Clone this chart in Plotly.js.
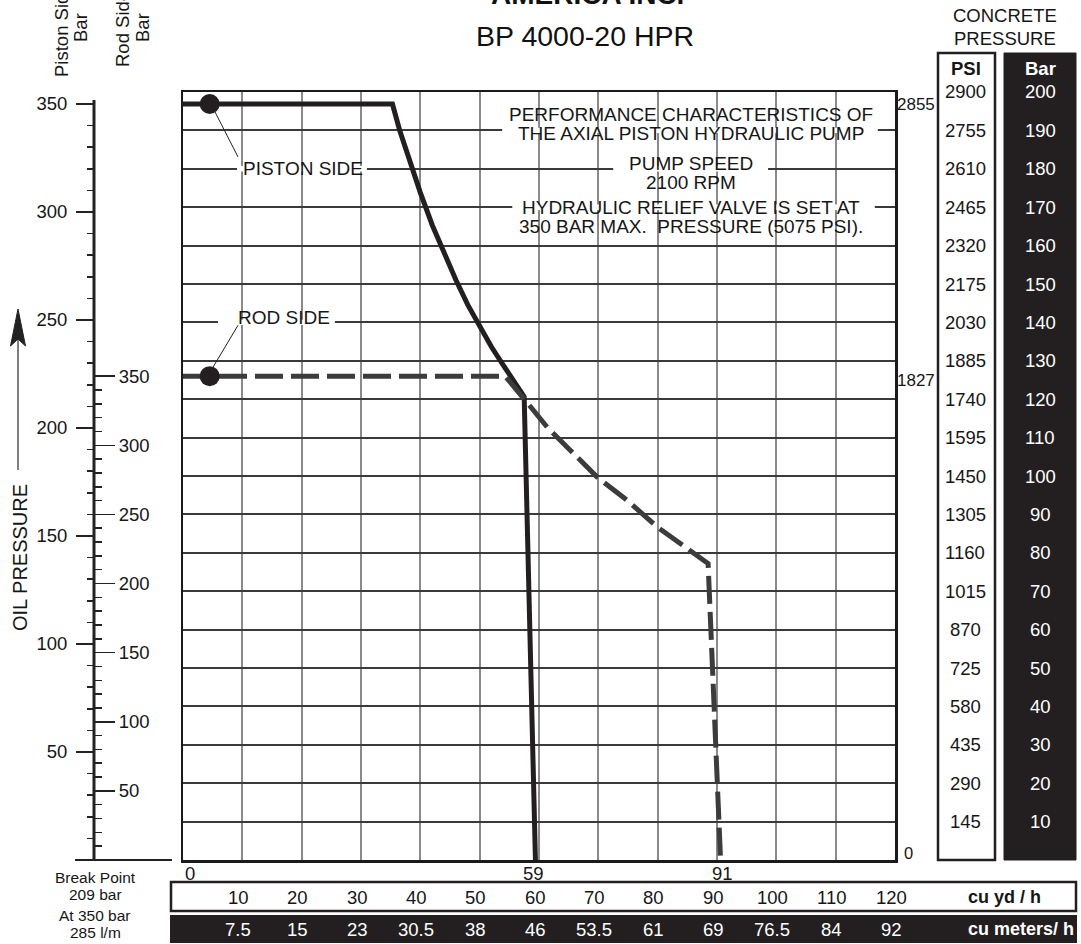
<!DOCTYPE html>
<html>
<head>
<meta charset="utf-8">
<script src="https://cdn.plot.ly/plotly-3.0.1.min.js"></script>
<style>
html,body{margin:0;padding:0;background:#fff;}
#chart{width:1081px;height:944px;}
.gridlayer path{shape-rendering:crispEdges;}
</style>
</head>
<body>
<div id="chart"></div>
<script>
// ---- data ----
const pistonX = [0, 35.3, 36.5, 38, 40, 42, 44, 46, 48, 50, 52, 54, 56, 57.5, 59.4];                          // cu yd/h
const pistonY = [350, 350, 338, 325, 309, 294, 281, 268.5, 257, 247, 237.5, 229, 220.5, 214.5, 0];            // bar (piston side)
const rodX = [0, 54.3, 57.4, 61.4, 69.8, 74.9, 79.9, 83.8, 88.5, 90.6];                                       // cu yd/h
const rodY = [350, 350, 334, 313, 277, 260, 241, 229, 214.5, 0];                                              // bar (rod side)
const dotX = [4.5];
const pistonDotY = [350];
const rodDotY = [350];
const concreteBar = [200,190,180,170,160,150,140,130,120,110,100,90,80,70,60,50,40,30,20,10];
const concretePsi = ['2900','2755','2610','2465','2320','2175','2030','1885','1740','1595','1450','1305','1160','1015','870','725','580','435','290','145'];
const cuYd = [10,20,30,40,50,60,70,80,90,100,110,120];
const cuM = ['7.5','15','23','30.5','38','46','53.5','61','69','76.5','84','92'];
const pistonTicks = [50,100,150,200,250,300,350];
const rodTicks = [50,100,150,200,250,300,350];
const breakX = [0, 59, 91];

// ---- layout helpers ----
const W = 1081, H = 944;
const px = x => x / W;
const py = y => 1 - y / H;
const FONT = 'Liberation Sans, Arial, Helvetica, sans-serif';
const INK = '#161616';

const minorVals = [];
for (let v = 10; v < 350; v += 10) if (v % 50 !== 0) minorVals.push(v);

const traces = [
  {x: pistonX, y: pistonY, yaxis: 'y2', mode: 'lines', line: {color: '#231f20', width: 5}, hoverinfo: 'skip', showlegend: false},
  {x: rodX, y: rodY, yaxis: 'y3', mode: 'lines', line: {color: '#3c3c3c', width: 5, dash: '28px,8px'}, hoverinfo: 'skip', showlegend: false},
  {x: dotX, y: pistonDotY, yaxis: 'y2', mode: 'markers', marker: {color: '#231f20', size: 20}, hoverinfo: 'skip', showlegend: false},
  {x: dotX, y: rodDotY, yaxis: 'y3', mode: 'markers', marker: {color: '#231f20', size: 20}, hoverinfo: 'skip', showlegend: false}
];

const ann = [];
const shapes = [];
function A(o) { ann.push(Object.assign({showarrow: false, font: {family: FONT, size: 18.5, color: INK}}, o)); }

// titles
A({text: '<b>AMERICA INC.</b>', xref: 'paper', yref: 'paper', x: px(587), y: 1 + 5 / H, xanchor: 'center', yanchor: 'middle', font: {family: FONT, size: 28, color: '#111'}});
A({text: 'BP 4000-20 HPR', xref: 'paper', yref: 'paper', x: px(585), y: py(36), xanchor: 'center', yanchor: 'middle', font: {family: FONT, size: 28.5, color: '#111'}});
A({text: 'CONCRETE', xref: 'paper', yref: 'paper', x: px(1005), y: py(16), xanchor: 'center', yanchor: 'middle'});
A({text: 'PRESSURE', xref: 'paper', yref: 'paper', x: px(1005), y: py(38), xanchor: 'center', yanchor: 'middle'});

// rotated axis titles
A({text: 'Piston Side', textangle: -90, xref: 'paper', yref: 'paper', x: px(61), y: py(30), xanchor: 'center', yanchor: 'middle'});
A({text: 'Bar', textangle: -90, xref: 'paper', yref: 'paper', x: px(80), y: py(28), xanchor: 'center', yanchor: 'middle'});
A({text: 'Rod Side', textangle: -90, xref: 'paper', yref: 'paper', x: px(123), y: py(29), xanchor: 'center', yanchor: 'middle'});
A({text: 'Bar', textangle: -90, xref: 'paper', yref: 'paper', x: px(142), y: py(28), xanchor: 'center', yanchor: 'middle'});
A({text: 'OIL PRESSURE', textangle: -90, xref: 'paper', yref: 'paper', x: px(20), y: py(558), xanchor: 'center', yanchor: 'middle', font: {family: FONT, size: 20, color: INK}});

// in-plot labels
A({text: 'PISTON SIDE', xref: 'x', yref: 'y', x: 20.2, y: 180.2, xanchor: 'center', yanchor: 'middle', font: {family: FONT, size: 19, color: INK}});
A({text: 'ROD SIDE', xref: 'x', yref: 'y', x: 17.0, y: 141.4, xanchor: 'center', yanchor: 'middle', font: {family: FONT, size: 19, color: INK}});
const blockX = 85.6;
[['PERFORMANCE CHARACTERISTICS OF', 115], ['THE AXIAL PISTON HYDRAULIC PUMP', 133],
 ['PUMP SPEED', 163], ['2100 RPM', 183],
 ['HYDRAULIC RELIEF VALVE IS SET AT', 208], ['350 BAR MAX.\u00a0 PRESSURE (5075 PSI).', 227]].forEach(([t, yy]) => {
  A({text: t, xref: 'x', yref: 'paper', x: blockX, y: py(yy), xanchor: 'center', yanchor: 'middle', font: {family: FONT, size: 19, color: INK}});
});

// gaps in gridlines behind labels
[[53.8, 117.1, 190], [9.1, 31.0, 180], [72.5, 98.6, 180], [55.5, 116.6, 170], [5.9, 25.6, 140]].forEach(([x0, x1, yv]) => {
  shapes.push({type: 'rect', xref: 'x', yref: 'y', x0: x0, x1: x1, y0: yv - 0.7, y1: yv + 0.7, fillcolor: '#fff', line: {width: 0}, layer: 'above'});
});

// leader lines
shapes.push({type: 'line', xref: 'x', yref: 'y2', x0: 5.4, y0: 346.3, x1: 9.27, y1: 325.5, line: {color: '#222', width: 1}});
shapes.push({type: 'line', xref: 'x', yref: 'y3', x0: 5.06, y0: 356.5, x1: 9.27, y1: 386.8, line: {color: '#222', width: 1}});

// right-hand values of the plot
A({text: '2855', xref: 'paper', yref: 'y2', x: px(895), y: 350, xanchor: 'left', yanchor: 'middle', yshift: -1, font: {family: FONT, size: 17, color: INK}});
A({text: '1827', xref: 'paper', yref: 'y3', x: px(895), y: 350, xanchor: 'left', yanchor: 'middle', yshift: -4, font: {family: FONT, size: 17, color: INK}});
A({text: '0', xref: 'paper', yref: 'y', x: px(908), y: 0, xanchor: 'center', yanchor: 'middle', yshift: 7, font: {family: FONT, size: 16.5, color: INK}});

// concrete pressure columns
shapes.push({type: 'rect', xref: 'paper', yref: 'paper', x0: px(938), x1: px(995), y0: py(860), y1: py(53), fillcolor: '#fff', line: {color: '#231f20', width: 2.5}});
shapes.push({type: 'rect', xref: 'paper', yref: 'paper', x0: px(1004), x1: px(1076), y0: py(860), y1: py(53), fillcolor: '#231f20', line: {color: '#231f20', width: 1}});
A({text: '<b>PSI</b>', xref: 'paper', yref: 'paper', x: px(966), y: py(68), xanchor: 'center', yanchor: 'middle'});
A({text: '<b>Bar</b>', xref: 'paper', yref: 'paper', x: px(1040), y: py(68), xanchor: 'center', yanchor: 'middle', font: {family: FONT, size: 18.5, color: '#fff'}});
concreteBar.forEach((b, i) => {
  A({text: concretePsi[i], xref: 'paper', yref: 'y', x: px(965), y: b, xanchor: 'center', yanchor: 'middle', font: {family: FONT, size: 18.5, color: INK}});
  A({text: String(b), xref: 'paper', yref: 'y', x: px(1040), y: b, xanchor: 'center', yanchor: 'middle', font: {family: FONT, size: 18.5, color: '#fff'}});
});

// break-point labels under the plot
breakX.forEach(v => {
  A({text: String(v), xref: 'x', yref: 'paper', x: v, y: py(873), xanchor: v === 0 ? 'left' : 'center', yanchor: 'middle'});
});

// bottom conversion tables
shapes.push({type: 'rect', xref: 'paper', yref: 'paper', x0: px(171), x1: px(1076), y0: py(911), y1: py(882), fillcolor: '#fff', line: {color: '#231f20', width: 2.5}});
shapes.push({type: 'rect', xref: 'paper', yref: 'paper', x0: px(170), x1: px(1077), y0: py(943), y1: py(915), fillcolor: '#231f20', line: {width: 0}});
cuYd.forEach((v, i) => {
  A({text: String(v), xref: 'x', yref: 'paper', x: v, y: py(897), xanchor: 'center', yanchor: 'middle', xshift: -4});
  A({text: cuM[i], xref: 'x', yref: 'paper', x: v, y: py(929), xanchor: 'center', yanchor: 'middle', xshift: -4, font: {family: FONT, size: 18.5, color: '#fff'}});
});
A({text: '<b>cu yd / h</b>', xref: 'paper', yref: 'paper', x: px(966), y: py(897), xanchor: 'left', yanchor: 'middle', font: {family: FONT, size: 18, color: INK}});
A({text: '<b>cu meters/ h</b>', xref: 'paper', yref: 'paper', x: px(966), y: py(929), xanchor: 'left', yanchor: 'middle', font: {family: FONT, size: 18, color: '#fff'}});
A({text: 'Break Point', xref: 'paper', yref: 'paper', x: px(95), y: py(877), xanchor: 'center', yanchor: 'middle', font: {family: FONT, size: 15.5, color: INK}});
A({text: '209 bar', xref: 'paper', yref: 'paper', x: px(95), y: py(894), xanchor: 'center', yanchor: 'middle', font: {family: FONT, size: 15.5, color: INK}});
A({text: 'At 350 bar', xref: 'paper', yref: 'paper', x: px(95), y: py(915), xanchor: 'center', yanchor: 'middle', font: {family: FONT, size: 15.5, color: INK}});
A({text: '285 l/m', xref: 'paper', yref: 'paper', x: px(95), y: py(932), xanchor: 'center', yanchor: 'middle', font: {family: FONT, size: 15.5, color: INK}});

// left scale axis line, baseline, arrow
shapes.push({type: 'line', xref: 'paper', yref: 'paper', x0: px(94), x1: px(94), y0: py(861), y1: py(100), line: {color: '#222', width: 3}});
shapes.push({type: 'line', xref: 'paper', yref: 'paper', x0: px(75), x1: px(172), y0: py(860), y1: py(860), line: {color: '#222', width: 2}});
shapes.push({type: 'line', xref: 'paper', yref: 'paper', x0: px(18), x1: px(18), y0: py(470), y1: py(340), line: {color: '#555', width: 1.5}});
shapes.push({type: 'path', xref: 'paper', yref: 'paper',
  path: `M ${px(18)} ${py(309)} L ${px(25.5)} ${py(346)} L ${px(18)} ${py(339)} L ${px(10.5)} ${py(346)} Z`,
  fillcolor: '#222', line: {color: '#222', width: 1}});

const tickCommon = {ticks: 'outside', tickwidth: 1.5, tickcolor: '#222', showgrid: false, zeroline: false, showline: false,
  tickfont: {family: FONT, size: 18.5, color: INK}, fixedrange: true};

const layout = {
  width: W, height: H,
  margin: {l: 0, r: 0, t: 0, b: 0},
  paper_bgcolor: '#fff', plot_bgcolor: '#fff',
  showlegend: false,
  xaxis: {domain: [183 / W, 895 / W], range: [0, 120], tick0: 0, dtick: 10, showgrid: true, gridcolor: '#8a8a8a', gridwidth: 2,
    showline: true, mirror: true, linecolor: '#1a1a1a', linewidth: 2.5, showticklabels: false, ticks: '', zeroline: false, fixedrange: true},
  yaxis: {domain: [84 / H, 852 / H], range: [0, 200], tick0: 0, dtick: 10, showgrid: true, gridcolor: '#3a3a3a', gridwidth: 2,
    showline: true, mirror: true, linecolor: '#1a1a1a', linewidth: 2.5, showticklabels: false, ticks: '', zeroline: false, fixedrange: true},
  yaxis2: Object.assign({}, tickCommon, {overlaying: 'y', anchor: 'free', position: 94 / W, side: 'left', range: [0, 200 / 0.5625],
    tickmode: 'array', tickvals: pistonTicks, ticklen: 18, ticklabelstandoff: 5,
    minor: {tickmode: 'array', tickvals: minorVals, ticks: 'outside', ticklen: 7, tickwidth: 1.5, tickcolor: '#222', showgrid: false}}),
  yaxis3: Object.assign({}, tickCommon, {overlaying: 'y', anchor: 'free', position: 94 / W, side: 'right', range: [0, 200 / 0.36],
    tickmode: 'array', tickvals: rodTicks, ticklen: 20,
    minor: {tickmode: 'array', tickvals: minorVals, ticks: 'outside', ticklen: 7, tickwidth: 1.5, tickcolor: '#222', showgrid: false}}),
  annotations: ann,
  shapes: shapes
};

Plotly.newPlot('chart', traces, layout, {staticPlot: true, displayModeBar: false});
</script>
</body>
</html>
